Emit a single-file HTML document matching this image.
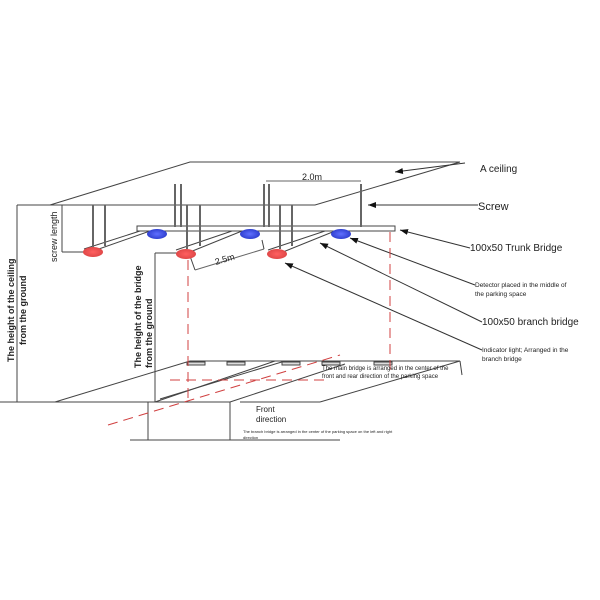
<!DOCTYPE html>
<html><head><style>
body{margin:0;background:#fff;width:600px;height:600px;overflow:hidden}
svg{display:block}
text{font-family:"Liberation Sans",sans-serif;fill:#222}
</style></head><body>
<svg width="600" height="600" viewBox="0 0 600 600">
<defs>
<marker id="a" markerWidth="8" markerHeight="6" refX="8" refY="3" orient="auto" markerUnits="userSpaceOnUse"><path d="M0,0 L8,3 L0,6z" fill="#111"/></marker>
<radialGradient id="r"><stop offset="0" stop-color="#ff6060"/><stop offset="1" stop-color="#e04848"/></radialGradient>
<radialGradient id="b"><stop offset="0" stop-color="#6070ff"/><stop offset="1" stop-color="#3040d0"/></radialGradient>
</defs>
<g stroke="#444" stroke-width="1" fill="none">
<path d="M190,162 L460,162 L315,205 L50,205 Z"/>
<line x1="17" y1="205" x2="17" y2="402"/>
<line x1="17" y1="205" x2="50" y2="205"/>
<line x1="62" y1="205" x2="62" y2="252"/>
<line x1="62" y1="252" x2="90" y2="252"/>
<line x1="155" y1="253" x2="155" y2="402"/>
<line x1="155" y1="253" x2="178" y2="253"/>
<rect x="137" y="226" width="258" height="5" fill="#fff"/>
<path d="M140,231 L84,249 M150,231 L96,250"/>
<path d="M232,231 L176,250 M242,231 L190,252"/>
<path d="M325,231 L268,250 M335,231 L283,252"/>
<g stroke-width="2" stroke="#666">
<line x1="93" y1="205" x2="93" y2="248"/><line x1="105" y1="205" x2="105" y2="246"/>
<line x1="187" y1="205" x2="187" y2="249"/><line x1="200" y1="205" x2="200" y2="246"/>
<line x1="280" y1="205" x2="280" y2="249"/><line x1="292" y1="205" x2="292" y2="246"/>
<line x1="175" y1="184" x2="175" y2="227"/><line x1="181" y1="184" x2="181" y2="227"/>
<line x1="264" y1="184" x2="264" y2="227"/><line x1="269" y1="184" x2="269" y2="227"/>
<line x1="361" y1="184" x2="361" y2="227"/>
</g>
<line x1="266" y1="181" x2="361" y2="181" stroke="#666"/>
<line x1="195" y1="270" x2="264" y2="249" stroke="#666"/>
<line x1="195" y1="270" x2="190" y2="256"/><line x1="264" y1="249" x2="262" y2="240"/>
<line x1="0" y1="402" x2="148" y2="402"/>
<line x1="55" y1="402" x2="190" y2="361"/>
<line x1="190" y1="361" x2="460" y2="361"/>
<path d="M148,402 L230,402 L230,440 M148,402 L148,440 M130,440 L340,440"/>
<line x1="155" y1="402" x2="275" y2="361"/>
<line x1="160" y1="399" x2="285" y2="361"/>
<line x1="230" y1="402" x2="345" y2="364"/>
<line x1="240" y1="402" x2="320" y2="402"/>
<line x1="320" y1="402" x2="460" y2="361"/>
<line x1="460" y1="361" x2="462" y2="375"/>
<g fill="#ddd"><rect x="187" y="362" width="18" height="3"/><rect x="227" y="362" width="18" height="3"/><rect x="282" y="362" width="18" height="3"/><rect x="322" y="362" width="18" height="3"/><rect x="374" y="362" width="18" height="3"/></g>
<g stroke="#333">
<line x1="465" y1="163" x2="395" y2="172" marker-end="url(#a)"/>
<line x1="478" y1="205" x2="368" y2="205" marker-end="url(#a)"/>
<line x1="470" y1="248" x2="400" y2="230" marker-end="url(#a)"/>
<line x1="475" y1="285" x2="350" y2="238" marker-end="url(#a)"/>
<line x1="482" y1="322" x2="320" y2="243" marker-end="url(#a)"/>
<line x1="482" y1="350" x2="285" y2="263" marker-end="url(#a)"/>
</g>
</g>
<g stroke="#d04040" stroke-width="1" stroke-dasharray="10,6" fill="none">
<line x1="188" y1="260" x2="188" y2="402"/>
<line x1="390" y1="232" x2="390" y2="375"/>
<line x1="108" y1="425" x2="340" y2="355"/>
<line x1="170" y1="380" x2="330" y2="380"/>
</g>
<ellipse cx="93" cy="252" rx="10" ry="5" fill="url(#r)"/>
<ellipse cx="186" cy="254" rx="10" ry="5" fill="url(#r)"/>
<ellipse cx="277" cy="254" rx="10" ry="5" fill="url(#r)"/>
<ellipse cx="157" cy="234" rx="10" ry="5" fill="url(#b)"/>
<ellipse cx="250" cy="234" rx="10" ry="5" fill="url(#b)"/>
<ellipse cx="341" cy="234" rx="10" ry="5" fill="url(#b)"/>
<text x="302" y="180" font-size="9">2.0m</text>
<text x="216" y="265" font-size="9" transform="rotate(-17 216 265)">2.5m</text>
<text x="480" y="172" font-size="10">A ceiling</text>
<text x="478" y="210" font-size="11">Screw</text>
<text x="470" y="251" font-size="10">100x50 Trunk Bridge</text>
<text x="475" y="287" font-size="6.5">Detector placed in the middle of</text>
<text x="475" y="296" font-size="6.5">the parking space</text>
<text x="482" y="325" font-size="10">100x50 branch bridge</text>
<text x="482" y="352" font-size="6.5">Indicator light; Arranged in the</text>
<text x="482" y="361" font-size="6.5">branch bridge</text>
<text x="322" y="370" font-size="6">The main bridge is arranged in the center of the</text>
<text x="322" y="378" font-size="6">front and rear direction of the parking space</text>
<text x="256" y="412" font-size="8">Front</text>
<text x="256" y="422" font-size="8">direction</text>
<text x="243" y="433" font-size="4">The branch bridge is arranged in the center of the parking space on the left and right</text>
<text x="243" y="439" font-size="4">direction</text>
<g font-size="9" font-weight="bold">
<text transform="translate(14,362) rotate(-90)">The height of the ceiling</text>
<text transform="translate(26,345) rotate(-90)">from the ground</text>
<text transform="translate(57,262) rotate(-90)" font-weight="normal">screw length</text>
<text transform="translate(141,368) rotate(-90)">The height of the bridge</text>
<text transform="translate(152,368) rotate(-90)">from the ground</text>
</g>
</svg>
</body></html>
